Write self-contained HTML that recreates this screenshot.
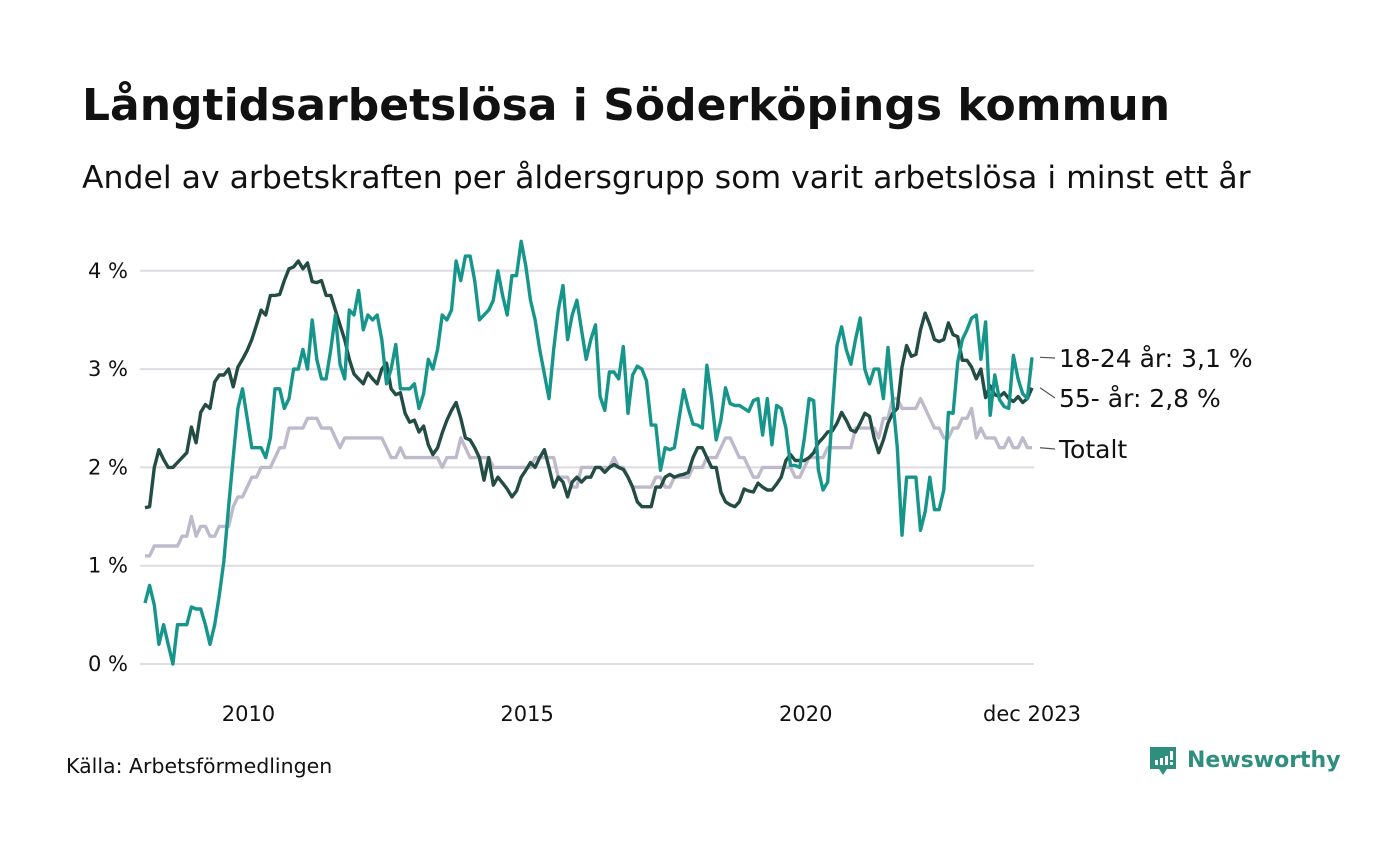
<!DOCTYPE html>
<html><head><meta charset="utf-8">
<style>
body{margin:0;background:#fff;}
#wrap{position:relative;width:1400px;height:840px;font-family:"Liberation Sans","DejaVu Sans",sans-serif;color:#111;}
svg text{font-family:"DejaVu Sans","Liberation Sans",sans-serif;}
</style></head><body>
<div id="wrap">
<svg id="chart" width="1400" height="840">
  <text x="82" y="120" font-size="44" font-weight="bold" fill="#111">Långtidsarbetslösa i Söderköpings kommun</text>
  <text x="82" y="188" font-size="31.5" fill="#111">Andel av arbetskraften per åldersgrupp som varit arbetslösa i minst ett år</text>
  <g id="grid"></g>
  <g id="series"></g>
  <g id="labels"></g>
  <text x="66" y="773" font-size="20.5" fill="#111">Källa: Arbetsförmedlingen</text>
  <g>
    <path d="M1150 747 h26 v22 h-9 l-4 6 l-4 -6 h-9 z" fill="#2e8f7e"/>
    <rect x="1155" y="760" width="3" height="5" fill="#fff"/>
    <rect x="1160" y="758" width="3" height="7" fill="#fff"/>
    <rect x="1165" y="756" width="3" height="9" fill="#fff"/>
    <rect x="1170" y="751" width="3" height="9" fill="#fff"/>
    <rect x="1170" y="762" width="3" height="3" fill="#fff"/>
    <text x="1187" y="767" font-size="22" font-weight="bold" fill="#2e8f7e">Newsworthy</text>
  </g>
</svg>
</div>
<script>
const yTicks = [0,1,2,3,4];
const xTickYears = [2010,2015,2020];
const startYear = 2008;
const totalVals = [
1.1,1.1,1.2,1.2,1.2,1.2,1.2,1.2,1.3,1.3,1.5,1.3,
1.4,1.4,1.3,1.3,1.4,1.4,1.4,1.6,1.7,1.7,1.8,1.9,
1.9,2.0,2.0,2.0,2.1,2.2,2.2,2.4,2.4,2.4,2.4,2.5,
2.5,2.5,2.4,2.4,2.4,2.3,2.2,2.3,2.3,2.3,2.3,2.3,
2.3,2.3,2.3,2.3,2.2,2.1,2.1,2.2,2.1,2.1,2.1,2.1,
2.1,2.1,2.1,2.1,2.0,2.1,2.1,2.1,2.3,2.2,2.1,2.1,
2.1,2.1,2.1,2.0,2.0,2.0,2.0,2.0,2.0,2.0,2.0,2.0,
2.1,2.1,2.1,2.1,2.1,1.9,1.9,1.9,1.8,1.8,2.0,2.0,
2.0,2.0,2.0,2.0,2.0,2.1,2.0,2.0,1.9,1.8,1.8,1.8,
1.8,1.8,1.9,1.9,1.8,1.8,1.9,1.9,1.9,1.9,2.0,2.0,
2.0,2.1,2.1,2.1,2.2,2.3,2.3,2.2,2.1,2.1,2.0,1.9,
1.9,2.0,2.0,2.0,2.0,2.0,2.0,2.0,1.9,1.9,2.0,2.1,
2.1,2.1,2.1,2.2,2.2,2.2,2.2,2.2,2.2,2.4,2.4,2.4,
2.4,2.4,2.3,2.5,2.5,2.7,2.7,2.6,2.6,2.6,2.6,2.7,
2.6,2.5,2.4,2.4,2.3,2.3,2.4,2.4,2.5,2.5,2.6,2.3,
2.4,2.3,2.3,2.3,2.2,2.2,2.3,2.2,2.2,2.3,2.2,2.2];
const youthVals = [
0.62,0.8,0.6,0.2,0.4,0.2,0.0,0.4,0.4,0.4,0.58,0.56,
0.56,0.4,0.2,0.4,0.7,1.05,1.6,2.1,2.6,2.8,2.5,2.2,
2.2,2.2,2.1,2.3,2.8,2.8,2.6,2.7,3.0,3.0,3.2,3.0,
3.5,3.1,2.9,2.9,3.2,3.55,3.05,2.9,3.6,3.55,3.8,3.4,
3.55,3.5,3.55,3.3,2.85,3.0,3.25,2.8,2.8,2.8,2.85,2.6,
2.75,3.1,3.0,3.2,3.55,3.5,3.6,4.1,3.9,4.15,4.15,3.9,
3.5,3.55,3.6,3.7,4.0,3.75,3.55,3.95,3.95,4.3,4.05,3.7,
3.5,3.2,2.95,2.7,3.2,3.6,3.85,3.3,3.55,3.7,3.4,3.1,
3.3,3.45,2.72,2.58,2.97,2.97,2.9,3.23,2.55,2.94,3.03,3.0,
2.88,2.43,2.43,1.97,2.2,2.18,2.2,2.5,2.79,2.6,2.44,2.43,
2.4,3.04,2.7,2.28,2.48,2.81,2.65,2.63,2.63,2.6,2.57,2.68,
2.7,2.33,2.7,2.23,2.63,2.6,2.4,2.02,2.02,2.0,2.3,2.7,
2.68,1.97,1.77,1.85,2.56,3.24,3.43,3.2,3.05,3.3,3.52,3.0,
2.85,3.0,3.0,2.7,3.22,2.69,2.2,1.31,1.9,1.9,1.9,1.36,
1.55,1.9,1.57,1.57,1.77,2.56,2.55,3.07,3.3,3.4,3.52,3.55,
3.1,3.48,2.53,2.94,2.69,2.62,2.6,3.14,2.9,2.75,2.7,3.12];
const olderVals = [
1.59,1.6,2.0,2.18,2.08,2.0,2.0,2.05,2.1,2.15,2.41,2.25,
2.56,2.64,2.6,2.87,2.94,2.94,3.0,2.82,3.02,3.1,3.19,3.3,
3.45,3.6,3.55,3.75,3.75,3.76,3.9,4.02,4.04,4.1,4.02,4.08,
3.89,3.88,3.9,3.75,3.75,3.6,3.45,3.3,3.1,2.95,2.9,2.85,
2.96,2.9,2.85,3.0,3.06,2.8,2.74,2.76,2.55,2.46,2.48,2.36,
2.42,2.23,2.13,2.2,2.35,2.48,2.58,2.66,2.5,2.3,2.28,2.2,
2.1,1.87,2.1,1.82,1.9,1.84,1.78,1.7,1.76,1.9,1.97,2.05,
2.0,2.1,2.18,2.0,1.8,1.9,1.85,1.7,1.85,1.9,1.85,1.9,
1.9,2.0,2.0,1.95,2.0,2.03,2.0,1.98,1.9,1.8,1.65,1.6,
1.6,1.6,1.8,1.8,1.9,1.93,1.9,1.92,1.93,1.95,2.1,2.2,
2.2,2.1,2.0,2.0,1.75,1.65,1.62,1.6,1.65,1.78,1.76,1.75,
1.84,1.8,1.77,1.77,1.83,1.9,2.07,2.13,2.07,2.07,2.07,2.1,
2.15,2.25,2.3,2.36,2.37,2.45,2.56,2.48,2.38,2.36,2.45,2.55,
2.52,2.3,2.15,2.28,2.45,2.55,2.6,3.02,3.24,3.13,3.15,3.4,
3.57,3.45,3.3,3.28,3.3,3.47,3.35,3.33,3.09,3.09,3.02,2.9,
3.0,2.71,2.83,2.74,2.72,2.76,2.7,2.67,2.72,2.66,2.7,2.81];
const seriesNames = ["Totalt","55- år","18-24 år"];

const NS="http://www.w3.org/2000/svg";
const x0=145, x1=1032;
const n=totalVals.length;
function xs(i){return x0+i*(x1-x0)/(n-1);}
function ys(v){return 664-v*98.3;}
function xYear(y){return x0+(y-startYear)*12*(x1-x0)/(n-1) - 8;}
function mk(tag,attrs,parent){const e=document.createElementNS(NS,tag);for(const k in attrs)e.setAttribute(k,attrs[k]);parent.appendChild(e);return e;}
const grid=document.getElementById('grid');
yTicks.forEach(t=>{
  const l=mk('line',{x1:140,x2:1034,y1:ys(t),y2:ys(t),stroke:'#dcdce2','stroke-width':2},grid);
  
  
  const tx=mk('text',{x:128,y:ys(t)+7,'text-anchor':'end','font-size':21,fill:'#111'},grid);
  tx.textContent=t+' %';
  
  
});
xTickYears.forEach(y=>{
  const tx=mk('text',{x:xYear(y),y:721,'text-anchor':'middle','font-size':21,fill:'#111'},grid);
  tx.textContent=y;
  
  
});
const lt=mk('text',{x:1032,y:721,'text-anchor':'middle','font-size':21,fill:'#111'},grid);
lt.textContent='dec 2023';



const ser=document.getElementById('series');
const labs=document.getElementById('labels');
const defs=[[totalVals,'#bebacb','total',458],[olderVals,'#234c44','age-55',407],[youthVals,'#16968a','age-18-24',367]];
defs.forEach((d,k)=>{
  const vals=d[0];
  const pts=vals.map((v,i)=>xs(i).toFixed(1)+','+ys(v).toFixed(1)).join(' ');
  const p=mk('polyline',{points:pts,fill:'none',stroke:d[1],'stroke-width':3.4,'stroke-linejoin':'round'},ser);
  
  
  const last=vals[vals.length-1];
  const ly=d[3];
  mk('line',{x1:1040,y1:ys(last),x2:1055,y2:ly-9,stroke:'#555','stroke-width':1.2},labs);
  const t=mk('text',{x:1059,y:ly,'font-size':25,fill:'#111'},labs);
  t.textContent = k===0 ? seriesNames[0] : seriesNames[k]+': '+last.toFixed(1).replace('.',',')+' %';
  
  
});
</script>
</body></html>
